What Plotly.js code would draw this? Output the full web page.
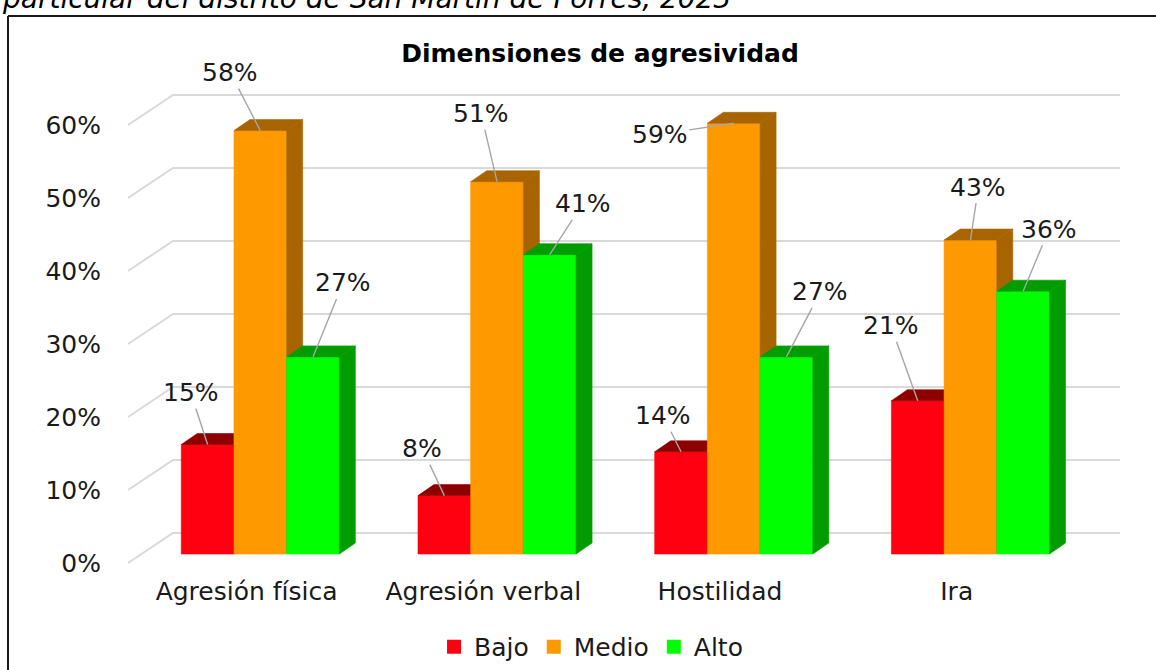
<!DOCTYPE html>
<html>
<head>
<meta charset="utf-8">
<script src="https://cdn.plot.ly/plotly-3.0.1.min.js"></script>
<style>
  html, body { margin: 0; padding: 0; background: #ffffff; }
  #chart { width: 1156px; height: 670px; }
</style>
</head>
<body>
<div id="chart"></div>
<script>
// ---------------- data ----------------
const categories = ['Agresión física', 'Agresión verbal', 'Hostilidad', 'Ira'];
const seriesNames = ['Bajo', 'Medio', 'Alto'];
const bajo = [15, 8, 14, 21];
const medio = [58, 51, 59, 43];
const alto = [27, 41, 27, 36];
const yTickValues = [0, 10, 20, 30, 40, 50, 60];
const yTickText = ['0%', '10%', '20%', '30%', '40%', '50%', '60%'];
const chartTitle = 'Dimensiones de agresividad';
const captionText = 'particular del distrito de San Martín de Porres, 2023';

// ---------------- styling / placement (not data) ----------------
const frontColors = ['#FF0010', '#FF9900', '#00FF00'];
const darkColors  = ['#8E0000', '#A86400', '#009C00'];
// pixel offsets of each data label from its bar top (label centre - anchor)
const offBajo  = [[-17, -52], [-22, -47], [-18, -36], [-27, -75]];
const offMedio = [[-30, -58], [-16, -68], [-74, 11], [8, -53]];
const offAlto  = [[30, -74], [33, -51], [34, -65], [26, -62]];

const FONT = 'DejaVu Sans, Verdana, sans-serif';
const barW = 0.2226;      // bar width in category units
const depthX = 0.0676;    // 3-D depth, x (category units)
const depthY = 1.507;     // 3-D depth, y (percentage units)
const gridFrontX = -0.559, gridBackX = -0.369, gridRightX = 3.632;
const gridFrontDy = -1.233, gridBackDy = 2.877;

const seriesValues = [bajo, medio, alto];
const offsets = [offBajo, offMedio, offAlto];

const traces = [];

// 3-D grid lines (floor edge slant + back wall)
const gx = [], gy = [];
yTickValues.forEach(v => {
  gx.push(gridFrontX, gridBackX, gridRightX, null);
  gy.push(v + gridFrontDy, v + gridBackDy, v + gridBackDy, null);
});
traces.push({
  type: 'scatter', mode: 'lines', x: gx, y: gy,
  line: { color: '#D9D9D9', width: 2 },
  hoverinfo: 'skip', showlegend: false
});

// bars: front, top and side faces
const annotations = [];
seriesValues.forEach((vals, k) => {
  const fx = [], fy = [], tx = [], ty = [], sx = [], sy = [];
  vals.forEach((v, i) => {
    const c = i + (k - 1) * barW;
    const a = c - barW / 2, b = c + barW / 2;
    fx.push(a, b, b, a, a, null); fy.push(0, 0, v, v, 0, null);
    tx.push(a, b, b + depthX, a + depthX, a, null);
    ty.push(v, v, v + depthY, v + depthY, v, null);
    sx.push(b, b + depthX, b + depthX, b, b, null);
    sy.push(0, depthY, v + depthY, v, 0, null);
    annotations.push({
      x: c, y: v, xref: 'x', yref: 'y',
      text: v + '%', showarrow: true, arrowhead: 0, arrowwidth: 1.4,
      arrowcolor: '#A6A6A6', standoff: 0,
      ax: offsets[k][i][0], ay: offsets[k][i][1],
      font: { family: FONT, size: 25, color: '#1A1A1A' }
    });
  });
  const common = { type: 'scatter', mode: 'lines', fill: 'toself', hoverinfo: 'skip', showlegend: false };
  traces.push(Object.assign({}, common, { x: fx, y: fy, fillcolor: frontColors[k], line: { color: frontColors[k], width: 0.6 } }));
  traces.push(Object.assign({}, common, { x: tx, y: ty, fillcolor: darkColors[k], line: { color: darkColors[k], width: 0.6 } }));
  traces.push(Object.assign({}, common, { x: sx, y: sy, fillcolor: darkColors[k], line: { color: darkColors[k], width: 0.6 } }));
});

// legend entries
seriesNames.forEach((name, k) => {
  traces.push({
    type: 'scatter', mode: 'markers', x: [null], y: [null], name: name,
    marker: { symbol: 'square', size: 14, color: frontColors[k] },
    hoverinfo: 'skip', showlegend: true
  });
});

// caption of the source document (cut off at top edge, as in the reference)
annotations.push({
  xref: 'paper', yref: 'paper', x: -0.108, y: 1.0837, xanchor: 'left', yanchor: 'bottom',
  text: captionText, showarrow: false,
  font: { family: FONT, size: 28, color: '#000000', style: 'italic' }
});

const layout = {
  width: 1156, height: 670,
  margin: { l: 110, r: 26, t: 60, b: 96, autoexpand: false },
  paper_bgcolor: '#FFFFFF', plot_bgcolor: 'rgba(0,0,0,0)',
  showlegend: true,
  title: {
    text: chartTitle, xref: 'container', yref: 'container',
    x: 0.519, y: 0.921, xanchor: 'center', yanchor: 'middle',
    font: { family: FONT, size: 25, weight: 'bold', color: '#000000' }
  },
  xaxis: {
    range: [-0.635, 3.674], showgrid: false, zeroline: false, showline: false,
    tickmode: 'array', tickvals: categories.map((c, i) => i - 0.058), ticktext: categories,
    ticks: '', tickfont: { family: FONT, size: 25, color: '#1A1A1A' }, fixedrange: true
  },
  yaxis: {
    range: [-2.74, 67.67], showgrid: false, zeroline: false, showline: false,
    tickmode: 'array', tickvals: yTickValues.map(v => v + gridFrontDy), ticktext: yTickText,
    ticks: '', ticklabelstandoff: 8, tickfont: { family: FONT, size: 25, color: '#1A1A1A' }, fixedrange: true
  },
  legend: {
    orientation: 'h', x: 0.4716, xanchor: 'center', y: -0.142, yanchor: 'middle',
    font: { family: FONT, size: 25, color: '#1A1A1A' }, bgcolor: 'rgba(0,0,0,0)'
  },
  annotations: annotations,
  shapes: [
    { type: 'line', xref: 'paper', yref: 'paper', x0: -0.1, x1: 1.04, y0: 1.0856, y1: 1.0856, line: { color: '#1A1A1A', width: 2 } },
    { type: 'line', xref: 'paper', yref: 'paper', x0: -0.1, x1: -0.1, y0: 1.0856, y1: -0.2, line: { color: '#1A1A1A', width: 2 } }
  ]
};

Plotly.newPlot('chart', traces, layout, { displayModeBar: false, staticPlot: true });
</script>
</body>
</html>
